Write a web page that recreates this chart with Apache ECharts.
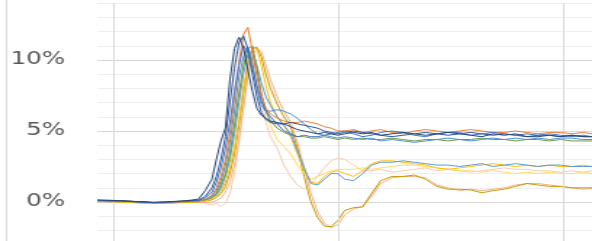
<!DOCTYPE html>
<html>
<head>
<meta charset="utf-8">
<script src="https://cdn.jsdelivr.net/npm/echarts@6/dist/echarts.min.js"></script>
<style>
  html, body { margin: 0; padding: 0; background: #fff; overflow: hidden; }
  /* the reference is a horizontally stretched screenshot, so stretch the same way */
  #chart { width: 408px; height: 241px; transform: scaleX(1.451); transform-origin: 0 0; }
</style>
</head>
<body>
<div id="chart"></div>
<script>
// shared sample positions (x units)
var xs = [0, 5, 10, 15, 20, 25, 30, 35, 40, 45,
  48, 51, 53, 55, 57, 59, 61, 63, 65, 67, 69, 71, 73, 75, 77,
  80, 83, 86, 89, 92, 95, 98, 101, 104, 107, 110,
  114, 118, 122, 126,
  131, 136, 141, 146, 151, 156, 161, 166, 171, 176, 181, 186, 191, 196, 201, 206, 211, 216, 220]

var yTicks = [0, 5, 10] // labelled ticks (%)
var vLines = [7, 107, 207] // vertical grid lines

// series values (%)
var navy = [0.15, 0.12, 0.1, 0.05, 0.02, -0.02, 0.0, 0.05, 0.1, 0.2,
  0.8, 1.6, 3.0, 4.3, 5.2, 8.6, 10.8, 11.6, 10.9, 9.3, 7.8, 6.6, 6.1, 5.9, 5.7,
  5.6, 5.5, 5.3, 5.1, 5.0, 4.9, 4.8, 4.9, 4.8, 4.7, 4.8,
  4.9, 4.8, 4.9, 4.7,
  4.8, 4.9, 4.8, 4.7, 4.8, 4.9, 4.8, 4.7, 4.6, 4.8, 4.7, 4.8, 4.6, 4.6, 4.7, 4.6, 4.7, 4.6, 4.6]
var blue = [0.1, 0.1, 0.05, 0.05, 0.0, -0.05, -0.02, 0.02, 0.05, 0.1,
  0.3, 0.7, 1.4, 2.4, 3.8, 5.6, 7.8, 9.6, 11.0, 10.6, 9.4, 8.2, 7.1, 6.4, 6.0,
  5.5, 5.0, 4.8, 4.6, 4.7, 4.6, 4.6, 4.7, 4.8, 4.9, 5.0,
  4.8, 4.6, 4.7, 4.9,
  5.0, 4.9, 4.7, 4.6, 4.8, 4.9, 4.9, 4.7, 4.8, 4.9, 4.8, 4.7, 4.8, 4.7, 4.8, 4.7, 4.6, 4.7, 4.6]
var darkBlue = [0.12, 0.08, 0.1, 0.03, 0.0, -0.03, 0.0, 0.03, 0.08, 0.12,
  0.4, 1.0, 1.8, 3.0, 4.6, 7.0, 9.4, 11.2, 11.7, 10.8, 9.0, 7.4, 6.3, 5.8, 5.6,
  5.5, 5.5, 5.6, 5.5, 5.4, 5.3, 5.2, 5.0, 4.9, 4.8, 4.9,
  5.0, 4.9, 4.8, 4.7,
  4.6, 4.7, 4.8, 4.9, 4.8, 4.7, 4.8, 4.9, 4.8, 4.7, 4.8, 4.7, 4.6, 4.7, 4.7, 4.6, 4.7, 4.6, 4.6]
var orange = [0.1, 0.1, 0.05, 0.05, 0.0, -0.05, -0.05, 0.0, 0.02, 0.05,
  0.2, 0.5, 1.0, 1.8, 3.0, 4.8, 7.4, 9.8, 11.8, 12.3, 10.6, 8.8, 7.5, 6.6, 6.2,
  5.9, 5.7, 5.6, 5.6, 5.7, 5.6, 5.5, 5.3, 5.2, 5.0, 5.0,
  5.1, 4.9, 5.0, 5.1,
  4.9, 4.8, 5.0, 5.1, 5.0, 4.9, 5.0, 5.1, 5.0, 4.9, 4.9, 5.0, 4.9, 4.8, 4.9, 4.9, 4.8, 4.9, 4.8]
var midBlue = [0.08, 0.1, 0.05, 0.02, -0.02, -0.05, -0.03, 0.0, 0.05, 0.08,
  0.2, 0.4, 0.8, 1.5, 2.6, 4.2, 6.4, 8.8, 10.2, 10.9, 9.8, 8.0, 6.8, 6.4, 6.4,
  6.5, 6.4, 6.2, 5.9, 5.5, 5.1, 4.8, 4.7, 4.6, 4.5, 4.6,
  4.5, 4.4, 4.5, 4.3,
  4.4, 4.3, 4.2, 4.3, 4.4, 4.5, 4.4, 4.3, 4.4, 4.5, 4.4, 4.5, 4.4, 4.5, 4.4, 4.5, 4.5, 4.4, 4.4]
var green = [0.1, 0.08, 0.06, 0.04, 0.0, -0.04, -0.02, 0.02, 0.04, 0.08,
  0.15, 0.3, 0.6, 1.2, 2.0, 3.4, 5.4, 7.6, 9.6, 10.8, 11.0, 9.4, 7.6, 6.4, 5.7,
  5.2, 4.9, 4.7, 4.6, 4.6, 4.5, 4.5, 4.6, 4.5, 4.4, 4.5,
  4.4, 4.5, 4.4, 4.4,
  4.5, 4.4, 4.3, 4.4, 4.4, 4.3, 4.4, 4.4, 4.5, 4.4, 4.4, 4.3, 4.4, 4.4, 4.3, 4.4, 4.3, 4.3, 4.3]
var lightBlue = [0.1, 0.12, 0.08, 0.05, 0.0, -0.05, -0.05, 0.0, 0.05, 0.08,
  0.15, 0.3, 0.5, 1.0, 1.8, 3.0, 4.8, 7.0, 9.0, 10.4, 10.6, 9.6, 8.4, 7.4, 6.8,
  6.0, 5.4, 4.8, 3.6, 2.4, 1.3, 1.2, 1.6, 2.0, 2.0, 1.6,
  1.5, 2.0, 2.6, 2.8,
  2.8, 2.9, 2.8, 2.7, 2.6, 2.6, 2.5, 2.6, 2.7, 2.5, 2.6, 2.7, 2.6, 2.5, 2.6, 2.6, 2.5, 2.5, 2.5]
var gold = [0.05, 0.05, 0.0, -0.02, -0.05, -0.1, -0.08, -0.05, 0.0, 0.02,
  0.1, 0.2, 0.4, 0.8, 1.4, 2.4, 3.8, 5.8, 8.0, 9.8, 10.9, 10.8, 9.6, 8.2, 7.0,
  6.0, 5.4, 4.6, 3.4, 2.2, 1.4, 1.3, 1.8, 2.1, 2.2, 2.0,
  1.8, 2.2, 2.7, 2.9,
  2.9, 2.8, 2.7, 2.6, 2.4, 2.3, 2.4, 2.5, 2.6, 2.7, 2.6, 2.5, 2.6, 2.5, 2.6, 2.5, 2.5, 2.6, 2.5]
var lightGold = [0.08, 0.06, 0.03, 0.0, -0.03, -0.06, -0.05, 0.0, 0.03, 0.05,
  0.1, 0.3, 0.7, 1.3, 2.2, 3.6, 5.6, 7.8, 9.6, 10.7, 10.4, 9.0, 7.4, 6.4, 5.4,
  4.4, 3.9, 3.4, 2.6, 2.0, 1.6, 1.8, 2.0, 2.2, 2.3, 2.3,
  2.3, 2.4, 2.3, 2.4,
  2.5, 2.6, 2.6, 2.5, 2.4, 2.3, 2.2, 2.2, 2.1, 2.2, 2.1, 2.0, 2.1, 2.0, 2.1, 2.0, 2.0, 2.1, 2.0]
var peach = [0.05, 0.03, 0.0, -0.02, -0.05, -0.08, -0.06, -0.04, -0.02, 0.0,
  -0.1, -0.2, -0.1, -0.3, -0.1, 0.6, 2.0, 4.2, 6.6, 8.8, 10.2, 9.4, 7.4, 5.6, 4.6,
  3.8, 2.6, 1.8, 1.2, 0.9, 1.3, 1.8, 2.4, 2.9, 3.1, 3.0,
  2.6, 2.2, 2.2, 2.3,
  2.1, 2.2, 2.3, 2.4, 2.2, 2.3, 2.2, 2.1, 2.2, 2.3, 2.4, 2.3, 2.3, 2.2, 2.2, 2.1, 2.2, 2.1, 2.2]
var darkGold = [0.05, 0.02, 0.0, -0.03, -0.06, -0.1, -0.08, -0.05, -0.02, 0.0,
  0.05, 0.15, 0.3, 0.6, 1.1, 2.0, 3.4, 5.4, 7.6, 9.6, 10.8, 10.9, 10.2, 9.0, 8.0,
  6.9, 6.0, 5.3, 3.8, 1.8, 0.0, -1.1, -1.7, -1.75, -1.3, -0.6,
  -0.4, -0.35, 0.6, 1.5,
  1.8, 1.8, 1.9, 1.6, 1.1, 0.9, 0.9, 0.85, 0.65, 0.8, 0.9, 1.1, 1.3, 1.2, 1.1, 1.1, 1.0, 1.0, 1.0]
var salmon = [0.0, 0.02, -0.02, -0.05, -0.08, -0.1, -0.1, -0.06, -0.04, -0.02,
  -0.05, 0.0, 0.1, 0.3, 0.7, 1.4, 2.6, 4.4, 6.6, 8.8, 10.4, 10.8, 10.6, 9.6, 8.6,
  7.4, 6.4, 5.6, 4.2, 2.4, 0.6, -0.7, -1.5, -1.8, -1.6, -0.9,
  -0.5, -0.3, 0.4, 1.3,
  1.7, 1.8, 1.8, 1.7, 1.2, 1.0, 0.8, 0.9, 0.8, 0.9, 1.0, 1.2, 1.3, 1.3, 1.2, 1.1, 1.0, 0.9, 0.95]

var seriesList = [
  { name: 'peach', data: peach, color: '#F8CBAD' },
  { name: 'salmon', data: salmon, color: '#F4B183' },
  { name: 'darkGold', data: darkGold, color: '#C99A06' },
  { name: 'lightGold', data: lightGold, color: '#FFD966' },
  { name: 'gold', data: gold, color: '#FFC000' },
  { name: 'lightBlue', data: lightBlue, color: '#5B9BD5' },
  { name: 'green', data: green, color: '#6B9A4B' },
  { name: 'midBlue', data: midBlue, color: '#4E8FCF' },
  { name: 'orange', data: orange, color: '#ED7D31' },
  { name: 'darkBlue', data: darkBlue, color: '#2F5597' },
  { name: 'blue', data: blue, color: '#4472C4' },
  { name: 'navy', data: navy, color: '#264478' }
]

var myChart = echarts.init(document.getElementById('chart'))

var series = seriesList.map(function (s, idx) {
  var item = {
    name: s.name,
    type: 'line',
    showSymbol: false,
    data: xs.map(function (x, i) { return [x, s.data[i]] }),
    lineStyle: { color: s.color, width: 1 },
    itemStyle: { color: s.color },
    z: 2 + idx
  }
  if (idx === 0) {
    item.markLine = {
      silent: true,
      symbol: ['none', 'none'],
      label: { show: false },
      lineStyle: { color: '#d9d9d9', width: 1, type: 'solid' },
      data: vLines.map(function (v) { return { xAxis: v } })
    }
  }
  return item
})

var option = {
  animation: false,
  grid: { left: 67, right: 0, top: 3.2, bottom: -3.6, containLabel: false, outerBoundsMode: 'none' },
  xAxis: {
    type: 'value',
    min: 0,
    max: 220,
    axisLine: { show: false },
    axisTick: { show: false },
    axisLabel: { show: false },
    splitLine: { show: false }
  },
  yAxis: {
    type: 'value',
    min: -3,
    max: 14,
    interval: 1,
    axisLine: { show: false },
    axisTick: { show: false },
    axisLabel: {
      margin: 22,
      color: '#595959',
      fontSize: 17,
      fontFamily: 'DejaVu Sans',
      formatter: function (v) { return yTicks.indexOf(v) >= 0 ? v + '%' : '' }
    },
    splitLine: {
      lineStyle: {
        // ticks start at -3, so index 3 of each five is a multiple of 5
        color: ['#efefef', '#efefef', '#efefef', '#d9d9d9', '#efefef'],
        width: 1
      }
    }
  },
  graphic: [{
    type: 'line',
    shape: { x1: 4.5, y1: 0, x2: 4.5, y2: 241 },
    style: { stroke: '#d9d9d9', lineWidth: 1 }
  }],
  series: series
}
myChart.setOption(option)
</script>
</body>
</html>
